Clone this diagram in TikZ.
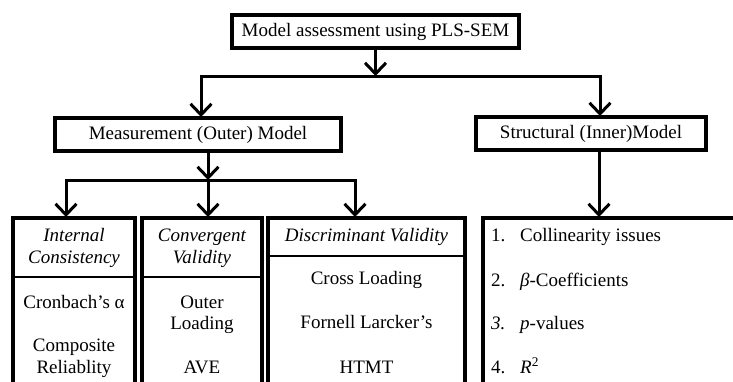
\documentclass[tikz,border=0pt]{standalone}
\usepackage{fontspec}
\setmainfont{Liberation Serif}
\usetikzlibrary{arrows.meta}
\begin{document}
\begin{tikzpicture}[x=1pt,y=-1pt,
  box/.style={draw, line width=4pt, rectangle, inner sep=0pt, outer sep=0pt,
              font=\fontsize{19}{22}\selectfont},
  col/.style={box, anchor=north west, minimum height=230pt},
  conn/.style={line width=3pt, shorten >=1pt, -{Straight Barb[length=11pt,width=21pt,line width=3pt]}},
  sep/.style={line width=1.2pt},
  txt/.style={inner sep=0pt, anchor=base, font=\fontsize{19}{22}\selectfont},
  ltxt/.style={txt, anchor=base west},
]
\useasboundingbox (0,0) rectangle (733,382);
\clip (0,0) rectangle (733,382);
\fill[white] (0,0) rectangle (733,382);

% upper boxes
\node[box, minimum width=287pt, minimum height=33pt] (top) at (375.5,31.5) {Model assessment using PLS-SEM};
\node[box, minimum width=286pt, minimum height=33pt] (meas) at (198,134.5) {Measurement (Outer) Model};
\node[box, minimum width=230pt, minimum height=33pt] (str) at (591,133.5) {Structural (Inner)Model};

% lower columns
\node[col, minimum width=122pt] (ic) at (13,218) {};
\node[col, minimum width=120pt] (cv) at (142,218) {};
\node[col, minimum width=197pt] (dv) at (268,218) {};
\node[col, minimum width=300pt] (sl) at (483,218) {};

% separators
\coordinate (sa) at (0,277);
\coordinate (sb) at (0,256);
\draw[sep] (ic.west |- sa) -- (ic.east |- sa);
\draw[sep] (cv.west |- sa) -- (cv.east |- sa);
\draw[sep] (dv.west |- sb) -- (dv.east |- sb);

% connectors level 1
\coordinate (t1) at (201,77);
\coordinate (t2) at (600,77);
\draw[conn] (top.south) -- (top.south |- t1);
\draw[conn] (t2) -- (t1) -- (t1 |- meas.north);
\draw[conn] (t1) -- (t2) -- (t2 |- str.north);

% connectors level 2
\coordinate (u1) at (66,181);
\coordinate (u2) at (208,181);
\coordinate (u3) at (355,181);
\draw[conn] (u2 |- meas.south) -- (u2);
\draw[conn] (u3) -- (u1) -- (u1 |- ic.north);
\draw[conn] (u1) -- (u3) -- (u3 |- dv.north);
\draw[conn] (u2) -- (u2 |- cv.north);
\coordinate (sx) at (599,0);
\draw[conn] (str.south -| sx) -- (sx |- sl.north);

% Internal consistency
\node[txt] (ic1) at (74,241) {\textit{Internal}};
\node[txt] (ic2) at (74,263) {\textit{Consistency}};
\node[txt] (ic3) at (74,308) {Cronbach’s α};
\node[txt] (ic4) at (74,351) {Composite};
\node[txt] (ic5) at (74,373) {Reliablity};

% Convergent validity
\node[txt] (cv1) at (202,241) {\textit{Convergent}};
\node[txt] (cv2) at (202,263) {\textit{Validity}};
\node[txt] (cv3) at (202,308) {Outer};
\node[txt] (cv4) at (202,329) {Loading};
\node[txt] (cv5) at (202,373) {AVE};

% Discriminant validity
\node[txt] (dv1) at (366.5,241) {\textit{Discriminant Validity}};
\node[txt] (dv2) at (366.5,284) {Cross Loading};
\node[txt] (dv3) at (366.5,328) {Fornell Larcker’s};
\node[txt] (dv4) at (366.5,373) {HTMT};

% Structural list
\node[ltxt] (n1) at (491,241) {1.};
\node[ltxt] (n2) at (491,286) {2.};
\node[ltxt] (n3) at (491,329) {\textit{3.}};
\node[ltxt] (n4) at (491,373) {4.};
\node[ltxt] (l1) at (520,241) {Collinearity issues};
\node[ltxt] (l2) at (520,286) {\textit{β}-Coefficients};
\node[ltxt] (l3) at (520,329) {\textit{p}-values};
\node[ltxt] (l4) at (520,373) {\textit{R}\textsuperscript{2}};
\end{tikzpicture}
\end{document}
